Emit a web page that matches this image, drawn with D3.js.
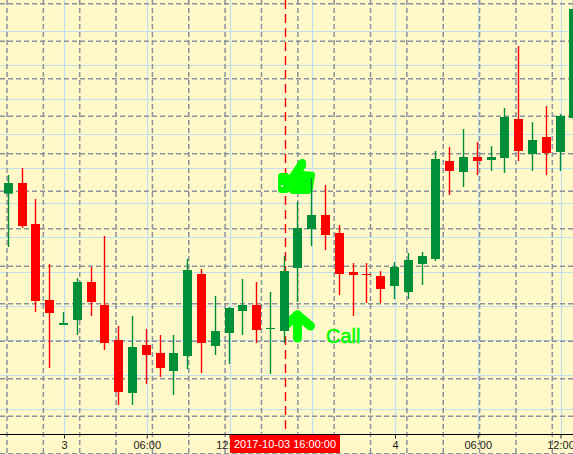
<!DOCTYPE html>
<html>
<head>
<meta charset="utf-8">
<script src="https://cdnjs.cloudflare.com/ajax/libs/d3/7.8.5/d3.min.js"></script>
<style>
html,body{margin:0;padding:0;background:#fff8c9;overflow:hidden}
svg{display:block}
text{font-family:"Liberation Sans",Arial,sans-serif}
</style>
</head>
<body>
<svg id="chart" width="573" height="454"></svg>
<script>
// Hourly quotes, in price points; first candle is 2017-10-02 20:00
const firstCandle = "2017-10-02T20:00:00Z";
const open = [117721,117753,117630,117402,117327,117342,117456,117387,117282,117123,117267,117243,117189,117234,117480,117264,117303,117369,117387,117315,117309,117498,117615,117657,117603,117486,117480,117474,117444,117426,117510,117525,117819,117786,117831,117822,117828,117945,117840,117891,117846,117948];
const high = [117777,117798,117705,117510,117366,117468,117501,117594,117324,117354,117315,117297,117297,117525,117495,117414,117381,117465,117456,117426,117534,117696,117768,117747,117627,117513,117513,117489,117516,117543,117546,117849,117861,117915,117876,117864,117978,118164,117936,117984,117960,118302];
const low = [117561,117618,117366,117198,117327,117297,117354,117252,117087,117087,117150,117171,117117,117195,117183,117237,117210,117297,117273,117180,117273,117396,117564,117552,117417,117354,117393,117393,117405,117405,117447,117519,117717,117741,117777,117789,117783,117819,117789,117777,117789,117942];
const close = [117753,117624,117399,117363,117333,117456,117396,117273,117126,117261,117237,117198,117243,117492,117273,117309,117378,117387,117312,117318,117489,117618,117657,117597,117480,117477,117477,117435,117501,117522,117534,117825,117789,117831,117819,117831,117951,117849,117882,117843,117954,118275];

// Axis and grid
const timeTicks = ["2017-10-03T00:00:00Z","2017-10-03T06:00:00Z","2017-10-03T12:00:00Z","2017-10-03T18:00:00Z","2017-10-04T00:00:00Z","2017-10-04T06:00:00Z","2017-10-04T12:00:00Z"];
const tickLabels = ["3","06:00","12:00","","4","06:00","12:00"];
const priceTicks = [118210,118107,118004,117900,117797,117694,117590,117487,117384,117281,117178,117074];
const dashedXIndex = d3.range(0,16);
const dashedYIndex = d3.range(0,13);

// Crosshair and signal
const crosshairTime = "2017-10-03T16:00:00Z";
const crosshairLabel = "2017-10-03 16:00:00";
const signalLabel = "Call";

const colors = {bg:"#fff8c9", solid:"#bfdff0", dash:"#8a929b", up:"#008f39", down:"#ff0000", signal:"#00ff00"};
const svg = d3.select("#chart");
const W = 573, H = 454, axisY = 434;

const x = d3.scaleUtc().domain([new Date("2017-10-03T00:00:00Z"), new Date("2017-10-04T00:00:00Z")]).range([64,395]);
const y = d3.scaleLinear().domain([117000,118302]).range([434,0]);
const dashX = d3.scaleLinear().domain([0,15]).range([7,552.3]);
const dashY = d3.scaleLinear().domain([0,12]).range([3.7,453.7]);

svg.append("rect").attr("width",W).attr("height",H).attr("fill",colors.bg);

// solid grid
const solid = svg.append("g").attr("stroke",colors.solid).attr("stroke-width",1.2);
solid.selectAll(".h").data(priceTicks).join("line").attr("class","h")
  .attr("x1",0).attr("x2",W).attr("y1",d=>Math.round(y(d))+.5).attr("y2",d=>Math.round(y(d))+.5);
solid.selectAll(".v").data(timeTicks).join("line").attr("class","v")
  .attr("y1",0).attr("y2",axisY).attr("x1",d=>Math.round(x(new Date(d)))+.5).attr("x2",d=>Math.round(x(new Date(d)))+.5);

// dashed grid
const dashed = svg.append("g").attr("stroke",colors.dash).attr("stroke-width",1.5).attr("stroke-dasharray","5 3");
dashed.selectAll(".h").data(dashedYIndex).join("line").attr("class","h")
  .attr("x1",0).attr("x2",W).attr("y1",d=>dashY(d)).attr("y2",d=>dashY(d));
dashed.selectAll(".v").data(dashedXIndex).join("line").attr("class","v")
  .attr("y1",0).attr("y2",H).attr("x1",d=>dashX(d)).attr("x2",d=>dashX(d));

// crosshair
const cx = Math.round(x(new Date(crosshairTime)))+.5;
svg.append("line").attr("x1",cx).attr("x2",cx).attr("y1",0).attr("y2",axisY)
  .attr("stroke",colors.down).attr("stroke-width",1.4).attr("stroke-dasharray","9 5");

// signals sit under the candles, anchored on the signal candle
const sigX = x(new Date("2017-10-03T17:00:00Z"));
const thumb = svg.append("g").attr("transform",`translate(${sigX-.4},${y(117741)})`).attr("fill",colors.signal);
thumb.append("rect").attr("x",-20).attr("y",-14).attr("width",11).attr("height",20).attr("rx",3);
thumb.append("path").attr("d","M-9,-12 L-8,-13 L0,-25 Q1,-28 4,-28 Q8,-28 8,-24 L8,-20 L5,-16 L15,-15 Q17,-15 17,-12 L15,1 Q14,7 10,7 L-5,7 Q-9,7 -9,3 Z");
thumb.append("rect").attr("x",-17).attr("y",-2).attr("width",2).attr("height",2).attr("fill","#d8ffd8");

const arrow = svg.append("g").attr("transform",`translate(${sigX-1},${y(117273)})`)
  .attr("stroke",colors.signal).attr("stroke-width",9).attr("stroke-linecap","round").attr("stroke-linejoin","round").attr("fill","none");
arrow.append("path").attr("d","M0,-28 L0,-5");
arrow.append("path").attr("d","M-13,-17 L0,-28 L13,-17");

svg.append("text").attr("x",x(new Date("2017-10-03T19:00:00Z"))).attr("y",y(117273))
  .attr("font-size",20).attr("fill",colors.signal).attr("stroke",colors.signal).attr("stroke-width",.5).text(signalLabel);

// candles
const t0 = new Date(firstCandle).getTime();
const candles = open.map((o,i)=>({t:new Date(t0+i*3600000),o,h:high[i],l:low[i],c:close[i]}));
const bw = 9;
const g = svg.append("g").selectAll("g").data(candles).join("g")
  .attr("fill",d=>d.c>=d.o?colors.up:colors.down).attr("stroke",d=>d.c>=d.o?colors.up:colors.down);
g.append("line").attr("stroke-width",1.4)
  .attr("x1",d=>Math.round(x(d.t))-.5).attr("x2",d=>Math.round(x(d.t))-.5).attr("y1",d=>y(d.h)).attr("y2",d=>y(d.l));
g.append("rect").attr("stroke","none")
  .attr("x",d=>Math.round(x(d.t))-5).attr("width",bw)
  .attr("y",d=>y(Math.max(d.o,d.c))).attr("height",d=>Math.max(1,Math.abs(y(d.o)-y(d.c))));

// axis
const axis = d3.axisBottom(x).tickValues(timeTicks.map(d=>new Date(d)))
  .tickFormat((d,i)=>tickLabels[i]).tickSize(4).tickPadding(3);
const ag = svg.append("g").attr("transform",`translate(0,${axisY+.5})`).call(axis);
ag.select(".domain").attr("d",`M0,0H${W}`).attr("stroke","#000");
ag.selectAll(".tick text").attr("font-size",11).attr("font-family",'"Liberation Sans",Arial,sans-serif').attr("fill","#222");
ag.selectAll(".tick line").attr("stroke","#222");

// crosshair time label
svg.append("rect").attr("x",230).attr("y",435).attr("width",110).attr("height",18).attr("fill",colors.down);
svg.append("text").attr("x",285).attr("y",448).attr("text-anchor","middle").attr("font-size",11).attr("fill","#fff").text(crosshairLabel);
</script>
</body>
</html>
